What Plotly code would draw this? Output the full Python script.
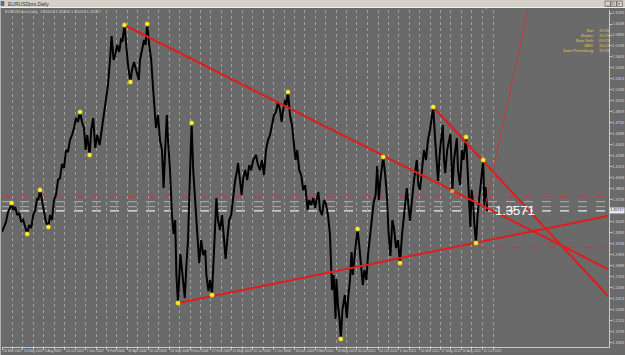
import plotly.graph_objects as go

# ---------------- data (bar index, price) ----------------
bar_index = [
    5, 10, 15, 20, 25, 29, 33, 38, 43, 48,
    53, 58, 63, 68, 73, 78, 83, 88, 93, 96,
    100, 105, 110, 115, 121, 125, 130, 135, 140, 145,
    150, 155, 160, 165, 170, 175, 180, 185, 190, 195,
    200, 205, 210, 214, 218, 224, 228, 233, 238, 243,
    249, 255, 260, 265, 270, 275, 279, 284, 288, 293,
    298, 303, 306, 311, 315, 320, 326, 330, 335, 340,
    347, 350, 355, 360, 364, 368, 373, 378, 383, 386,
    390, 395, 400, 405, 409, 413, 417, 420, 425, 430,
    434, 438, 441, 445, 451, 455, 462, 466, 470, 475,
    479, 483, 488, 493, 498, 503, 508, 513, 516, 521,
    525, 530, 535, 541, 545, 550, 555, 560, 564, 568,
    573, 578, 583, 588, 593, 595, 600, 604, 608, 613,
    618, 623, 628, 633, 640, 645, 650, 655, 660, 665,
    670, 675, 680, 685, 690, 695, 700, 704, 708, 713,
    716, 720, 725, 730, 735, 739, 743, 748, 753, 758,
    763, 769, 773, 778, 783, 788, 791, 796, 800, 805,
    810, 815, 820, 825, 830, 834, 839, 841, 845, 849,
    852, 856, 862, 867, 871, 875, 879, 882, 888, 894,
    898, 903, 907, 911, 916, 920, 925, 930, 934, 939,
    943, 947, 951, 958, 963, 968, 971, 976, 981, 985,
    990, 995, 1000, 1005, 1010, 1017, 1021, 1025, 1030, 1035,
    1042, 1046, 1050, 1055, 1060, 1065, 1070, 1075, 1083, 1088,
    1091, 1095, 1100, 1107, 1110, 1113, 1118, 1123, 1126, 1129,
    1131, 1135, 1142, 1145, 1150, 1155, 1159, 1165, 1169, 1173,
    1176, 1179, 1183, 1186, 1190, 1194, 1198, 1201, 1205, 1208,
    1211, 1214, 1218,
]
price_path = [
    1.3293, 1.3372, 1.3425, 1.3557, 1.3609, 1.3675, 1.3583, 1.3623, 1.3517, 1.3543,
    1.3425, 1.3451, 1.3345, 1.3266, 1.3385, 1.3345, 1.3517, 1.3583, 1.3741, 1.3715,
    1.3847, 1.3689, 1.3583, 1.3425, 1.3359, 1.3517, 1.3451, 1.3715, 1.3781, 1.3979,
    1.4005, 1.4190, 1.4137, 1.4375, 1.4349, 1.4507, 1.4573, 1.4665, 1.4797, 1.4745,
    1.4877, 1.4745, 1.4665, 1.4375, 1.4573, 1.4309, 1.4639, 1.4797, 1.4401, 1.4573,
    1.4441, 1.4665, 1.4903, 1.5101, 1.5233, 1.5563, 1.5880, 1.5563, 1.5629, 1.5761,
    1.5669, 1.5853, 1.5801, 1.6025, 1.5761, 1.5497, 1.5273, 1.5431, 1.5537, 1.5431,
    1.5299, 1.5563, 1.5695, 1.5827, 1.5761, 1.6038, 1.5761, 1.5563, 1.5167, 1.4995,
    1.4665, 1.4837, 1.4507, 1.4375, 1.3873, 1.4375, 1.4837, 1.4507, 1.4111, 1.3517,
    1.3266, 1.3451, 1.2725, 1.2355, 1.3002, 1.2791, 1.2421, 1.2857, 1.3187, 1.4045,
    1.4731, 1.4111, 1.3715, 1.3319, 1.2883, 1.3187, 1.2989, 1.3055, 1.2725, 1.2514,
    1.2659, 1.2461, 1.3055, 1.3741, 1.3451, 1.3319, 1.3517, 1.3121, 1.2936, 1.3187,
    1.3451, 1.3517, 1.3781, 1.3979, 1.4111, 1.4203, 1.3979, 1.3781, 1.4005, 1.4111,
    1.3979, 1.4177, 1.4111, 1.4243, 1.4309, 1.4177, 1.4111, 1.4243, 1.4045, 1.4375,
    1.4507, 1.4573, 1.4705, 1.4837, 1.4877, 1.5009, 1.4903, 1.4745, 1.4903, 1.5035,
    1.4969, 1.5141, 1.4837, 1.4705, 1.4441, 1.4243, 1.4375, 1.4111, 1.4045, 1.3847,
    1.3913, 1.3583, 1.3715, 1.3649, 1.3741, 1.3609, 1.3715, 1.3821, 1.3583, 1.3517,
    1.3715, 1.3662, 1.3517, 1.3253, 1.2527, 1.2725, 1.2144, 1.2672, 1.2329, 1.2131,
    1.1880, 1.2263, 1.2461, 1.2157, 1.2461, 1.2659, 1.3029, 1.2725, 1.3055, 1.3332,
    1.3121, 1.2857, 1.2593, 1.2791, 1.2659, 1.2989, 1.3253, 1.3517, 1.3675, 1.3781,
    1.4164, 1.3715, 1.3979, 1.4283, 1.4045, 1.3715, 1.3319, 1.2976, 1.3451, 1.3345,
    1.3081, 1.3187, 1.2883, 1.3253, 1.3517, 1.3873, 1.3649, 1.3438, 1.3715, 1.3979,
    1.4243, 1.3913, 1.3847, 1.4111, 1.4375, 1.4243, 1.4507, 1.4639, 1.4943, 1.4507,
    1.4243, 1.3966, 1.4375, 1.4705, 1.4243, 1.4071, 1.4375, 1.4507, 1.4586, 1.4177,
    1.3834, 1.4243, 1.4533, 1.4111, 1.3913, 1.4375, 1.4243, 1.4547, 1.4045, 1.3649,
    1.3359, 1.3847, 1.3649, 1.3385, 1.3147, 1.3517, 1.3715, 1.3847, 1.4045, 1.4243,
    1.3609, 1.3887, 1.3570,
]

swing_bars = [29, 68, 100, 121, 200, 224, 311, 326, 368, 445, 479, 530,
              720, 852, 894, 958, 1000, 1083, 1165, 1190, 1208]
swing_prices = [1.3675, 1.3266, 1.3847, 1.3359, 1.4877, 1.4309, 1.6025, 1.5273,
                1.6038, 1.2355, 1.4731, 1.2461, 1.5141, 1.1880, 1.3332, 1.4283,
                1.2883, 1.4943, 1.4547, 1.3147, 1.4243]
orange_bars = [1131]
orange_prices = [1.3834]

trend_a_bars, trend_a_prices = [311, 1520], [1.6025, 1.2804]
trend_b_bars, trend_b_prices = [1083, 1520], [1.4943, 1.2448]
trend_c_bars, trend_c_prices = [445, 1520], [1.2355, 1.3504]
trend_d_bars, trend_d_prices = [1208, 1325], [1.3517, 1.6355]

level_red_full = 1.3759
level_gray = [1.3693, 1.3627]
bid_price = 1.3572
level_red_short = 1.3095
level_red_short_start = 1190
big_price_text = "1.3571"
last_quote_text = "1.35717"

date_label_bars = [5, 57, 109, 162, 214, 266, 318, 370, 423, 475, 527, 579,
                   631, 684, 736, 788, 840, 892, 945, 997, 1049, 1101, 1153, 1206]
date_labels = ["26 Mar 2007", "14 May 2007", "3 Aug 2007", "10 Oct 2007",
               "7 Dec 2007", "8 Feb 2008", "29 Apr 2008", "16 Jul 2008",
               "24 Sep 2008", "8 Dec 2008", "27 Feb 2009", "11 May 2009",
               "22 Jul 2009", "2 Oct 2009", "16 Dec 2009", "3 Mar 2010",
               "18 May 2010", "30 Jul 2010", "14 Oct 2010", "3 Jan 2011",
               "16 Mar 2011", "27 May 2011", "10 Aug 2011", "21 Oct 2011"]

price_ticks = [1.6183, 1.6038, 1.5893, 1.5748, 1.5603, 1.5458, 1.5313, 1.5168,
               1.5023, 1.4878, 1.4733, 1.4588, 1.4443, 1.4298, 1.4153, 1.4008,
               1.3863, 1.3718, 1.3428, 1.3283, 1.3138, 1.2993, 1.2848, 1.2703,
               1.2558, 1.2413, 1.2268, 1.2123, 1.1978, 1.1833]

info_labels = ["Bar:", "Broker:", "New York:", "GMT:", "Saint-Petersburg:"]
info_times = ["19:23", "19:23", "09:23", "15:23", "19:23"]

window_title = "EURUSDpro,Daily"
sub_title = "EURUSDpro,Daily  1.35654 1.35826 1.35009 1.35717"

# ---------------- styling ----------------
W, H = 625, 355
ML, MR, MT, MB = 2, 16, 10, 8
PW, PH = W - ML - MR, H - MT - MB
BG = "#6a6a6a"
RED = "#e01c1c"
FONT = "Liberation Sans, Arial, sans-serif"


def xp(px):
    return (px - ML) / PW


def yp(py):
    return (H - MB - py) / PH


mids = [(a + b) / 2 for a, b in zip(date_label_bars[:-1], date_label_bars[1:])]
mids.append(date_label_bars[-1] + (date_label_bars[-1] - date_label_bars[-2]) / 2)
grid_vals = sorted(date_label_bars + mids)
lab = dict(zip(date_label_bars, date_labels))
grid_text = [lab.get(v, "") for v in grid_vals]

fig = go.Figure()

fig.add_trace(go.Scatter(x=bar_index, y=price_path, mode="lines",
                         line=dict(color="black", width=2), hoverinfo="skip"))

for bx, py, w, col in [
    (trend_a_bars, trend_a_prices, 2, RED),
    (trend_b_bars, trend_b_prices, 2, RED),
    (trend_c_bars, trend_c_prices, 2, RED),
    (trend_d_bars, trend_d_prices, 1, "#c23a3a"),
]:
    fig.add_trace(go.Scatter(x=bx, y=py, mode="lines",
                             line=dict(color=col, width=w), hoverinfo="skip"))

fig.add_trace(go.Scatter(x=swing_bars, y=swing_prices, mode="markers",
                         marker=dict(color="#f4f03a", size=4.5,
                                     line=dict(color="#c8b400", width=0.5)),
                         hoverinfo="skip"))
fig.add_trace(go.Scatter(x=orange_bars, y=orange_prices, mode="markers",
                         marker=dict(color="#f0a030", size=4), hoverinfo="skip"))

shapes = []
shapes.append(dict(type="line", xref="paper", x0=0, x1=1, yref="y",
                   y0=level_red_full, y1=level_red_full, layer="between",
                   line=dict(color="#b84040", width=1, dash="dash")))
for lv in level_gray:
    shapes.append(dict(type="line", xref="paper", x0=0, x1=1, yref="y",
                       y0=lv, y1=lv, layer="between",
                       line=dict(color="#b0b0b0", width=1, dash="dash")))
shapes.append(dict(type="line", xref="paper", x0=0, x1=1, yref="y",
                   y0=bid_price, y1=bid_price, layer="between",
                   line=dict(color="#eeeeee", width=1.3, dash="dash")))
shapes.append(dict(type="line", xref="x", x0=level_red_short_start, x1=1522.5,
                   yref="y", y0=level_red_short, y1=level_red_short, layer="between",
                   line=dict(color="#b84040", width=1, dash="dash")))

# window chrome
shapes.append(dict(type="rect", xref="paper", yref="paper", x0=xp(0), x1=xp(W),
                   y0=yp(7), y1=yp(0), fillcolor="#d4d0c8", line=dict(width=0),
                   layer="above"))
shapes.append(dict(type="line", xref="paper", yref="paper", x0=xp(0), x1=xp(W),
                   y0=yp(7.5), y1=yp(7.5), line=dict(color="#f0f0f0", width=1)))
shapes.append(dict(type="line", xref="paper", yref="paper", x0=xp(0.5), x1=xp(0.5),
                   y0=yp(355), y1=yp(7.5), line=dict(color="#b0b0b0", width=1)))
shapes.append(dict(type="rect", xref="paper", yref="paper", x0=xp(1), x1=xp(4),
                   y0=yp(5.5), y1=yp(1.5), fillcolor="#5070a0",
                   line=dict(color="#404040", width=0.5)))
for bx0 in (605, 611, 617):
    shapes.append(dict(type="rect", xref="paper", yref="paper", x0=xp(bx0),
                       x1=xp(bx0 + 5.5), y0=yp(6.5), y1=yp(1),
                       fillcolor="#d4d0c8", line=dict(color="#505050", width=0.6)))

annotations = []
annotations.append(dict(xref="paper", yref="paper", x=xp(6), y=yp(3.7),
                        text=window_title, showarrow=False, xanchor="left",
                        yanchor="middle", font=dict(size=5, color="#303030", family=FONT)))
for bx0, ch in zip((605, 611, 617), ("_", "□", "×")):
    annotations.append(dict(xref="paper", yref="paper", x=xp(bx0 + 2.75), y=yp(3.8),
                            text=ch, showarrow=False, xanchor="center",
                            yanchor="middle", font=dict(size=4, color="#000", family=FONT)))
annotations.append(dict(xref="paper", yref="paper", x=xp(3), y=yp(11.5),
                        text=sub_title, showarrow=False, xanchor="left",
                        yanchor="middle", font=dict(size=4, color="#d0d0d0", family=FONT)))
annotations.append(dict(xref="paper", yref="paper", x=xp(486.5), y=yp(8.8),
                        text="▼", showarrow=False, xanchor="center", yanchor="middle",
                        font=dict(size=3, color="#a0a0a0", family=FONT)))
for i, (l, t) in enumerate(zip(info_labels, info_times)):
    yy = yp(30.7 + 5 * i)
    annotations.append(dict(xref="paper", yref="paper", x=xp(595), y=yy, text=l,
                            showarrow=False, xanchor="right", yanchor="middle",
                            borderpad=0,
                            font=dict(size=4, color="#e3c850", family=FONT)))
    annotations.append(dict(xref="paper", yref="paper", x=xp(598), y=yy, text=t,
                            showarrow=False, xanchor="left", yanchor="middle",
                            borderpad=0,
                            font=dict(size=4, color="#e3c850", family=FONT)))
annotations.append(dict(xref="x", yref="y", x=1232, y=bid_price, text=big_price_text,
                        showarrow=False, xanchor="left", yanchor="middle",
                        font=dict(size=13, color="white", family=FONT)))
annotations.append(dict(xref="paper", yref="y", x=1.0, y=bid_price, text=last_quote_text,
                        showarrow=False, xanchor="left", yanchor="middle",
                        bgcolor="#e8e8e8", borderpad=0.3,
                        font=dict(size=3.6, color="#202020", family=FONT)))

fig.update_layout(
    width=W, height=H,
    margin=dict(l=ML, r=MR, t=MT, b=MB, pad=0, autoexpand=False),
    paper_bgcolor=BG, plot_bgcolor=BG,
    showlegend=False,
    shapes=shapes, annotations=annotations,
    xaxis=dict(range=[5, 1522.5], tickmode="array", tickvals=grid_vals,
               ticktext=grid_text, tickangle=0, automargin=False,
               showgrid=True, gridcolor="#a0a0a0",
               griddash="dot", gridwidth=1, ticks="outside", ticklen=2,
               tickcolor="#c8c8c8", ticklabelposition="outside right",
               tickfont=dict(size=3.4, color="#d8d8d8", family=FONT),
               showline=True, linecolor="#c8c8c8", linewidth=1, zeroline=False,
               fixedrange=True),
    yaxis=dict(range=[1.1775, 1.6223], side="right", tickmode="array",
               tickvals=price_ticks, ticktext=[f"{v:.4f}" for v in price_ticks],
               automargin=False, showgrid=False, ticks="outside", ticklen=1.5,
               tickcolor="#c8c8c8",
               tickfont=dict(size=3.9, color="#d8d8d8", family=FONT),
               showline=True, linecolor="#c8c8c8", linewidth=1, zeroline=False,
               fixedrange=True),
)

fig.write_html("out.html")
